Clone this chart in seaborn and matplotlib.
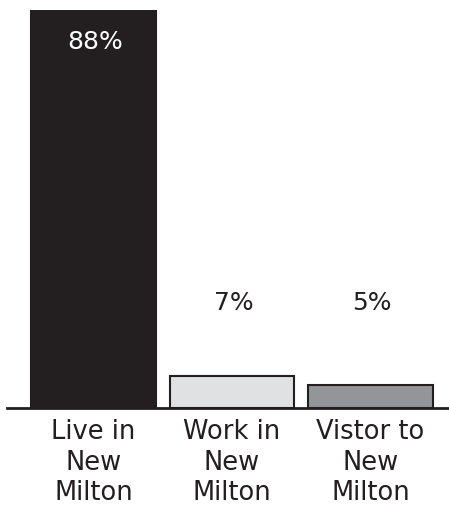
import matplotlib
matplotlib.use("Agg")
import matplotlib.pyplot as plt
import seaborn as sns
import pandas as pd

categories = ["Live in\nNew\nMilton", "Work in\nNew\nMilton", "Vistor to\nNew\nMilton"]
values = [88, 7, 5]
value_labels = ["88%", "7%", "5%"]
colors = ["#231f20", "#e0e1e2", "#939598"]
label_colors = ["white", "#231f20", "#231f20"]

sns.set_theme(style="white")
plt.rcParams["font.family"] = ["DejaVu Sans"]

df = pd.DataFrame({"cat": categories, "val": values})

W, H = 449, 509
fig = plt.figure(figsize=(W / 100, H / 100), dpi=100)
ax = fig.add_axes([7 / W, 101 / H, 442 / W, (408 - 10) / H])

sns.barplot(data=df, x="cat", y="val", hue="cat", palette=colors, legend=False,
            width=0.9, edgecolor="#231f20", linewidth=1.5, saturation=1, ax=ax)

ax.set_xlim(-0.625, 2.567)
ax.set_ylim(0, 88)
ax.set_xlabel("")
ax.set_ylabel("")
ax.set_yticks([])
for s in ["top", "right", "left"]:
    ax.spines[s].set_visible(False)
ax.spines["bottom"].set_color("#231f20")
ax.spines["bottom"].set_linewidth(2)
ax.tick_params(axis="x", length=0, pad=8, labelsize=18.5, colors="#231f20")
for t in ax.get_xticklabels():
    t.set_linespacing(1.22)

for i, (v, lab) in enumerate(zip(values, value_labels)):
    y = v - 7.1 if v > 50 else 23.3
    ax.text(i + 0.01, y, lab, ha="center", va="center", fontsize=18,
            color=label_colors[i])

fig.savefig("out.png", dpi=100)
